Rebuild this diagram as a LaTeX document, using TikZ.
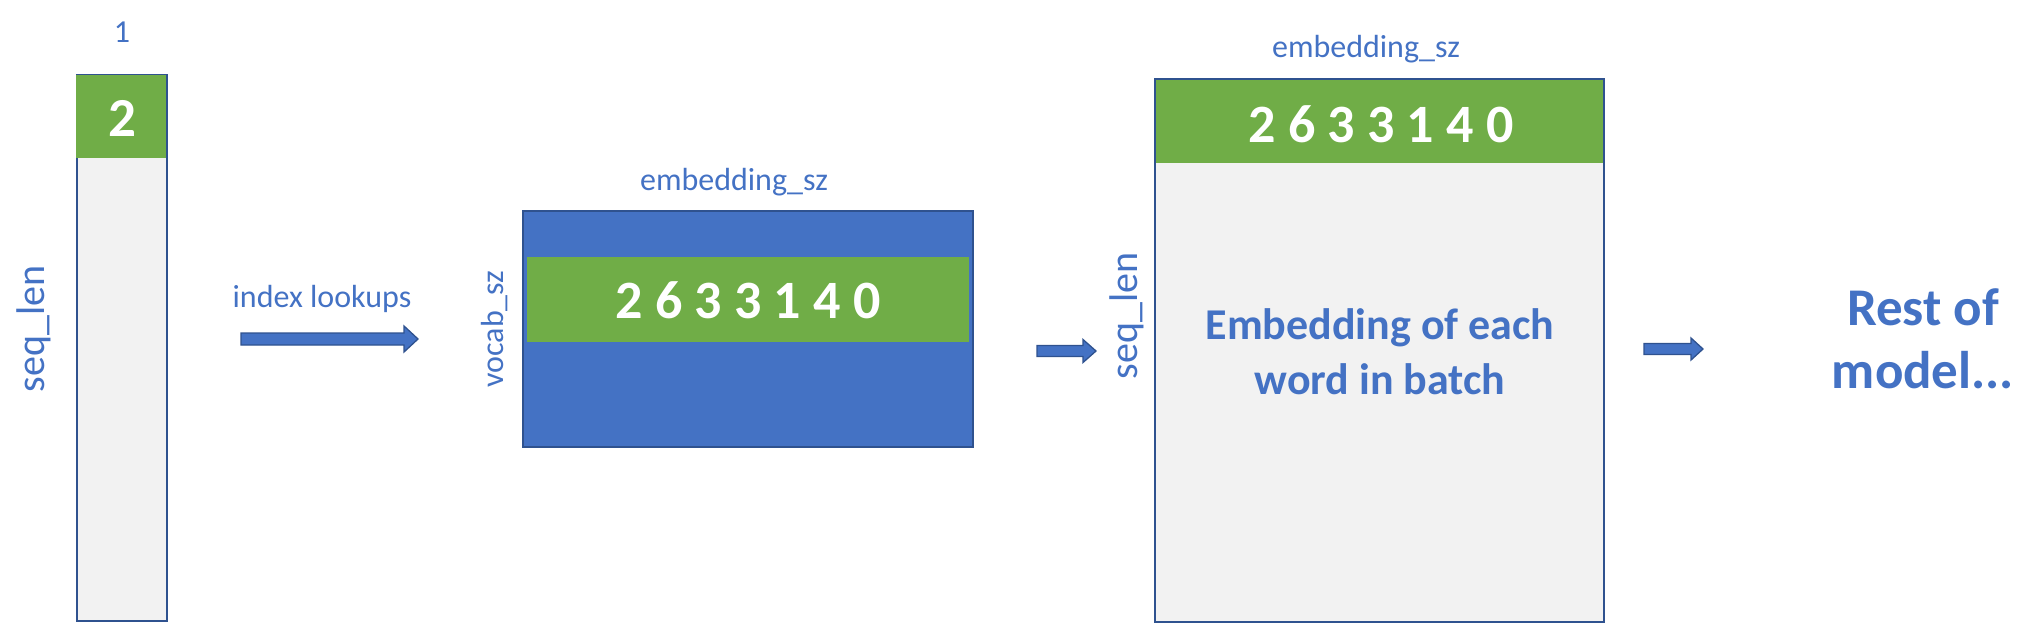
\documentclass[tikz,border=0pt]{standalone}
\usepackage{fontspec}
\setmainfont{Carlito}
\definecolor{txtblue}{HTML}{4472C4}
\definecolor{boxblue}{HTML}{4472C4}
\definecolor{edgeblue}{HTML}{2F528F}
\definecolor{leafgreen}{HTML}{70AD47}
\definecolor{panelgray}{HTML}{F2F2F2}
\begin{document}
\begin{tikzpicture}[x=1pt,y=-1pt,
  lbl/.style={text=txtblue, inner sep=0pt, font=\fontsize{32}{38}\selectfont},
  dimlbl/.style={text=txtblue, inner sep=0pt, font=\fontsize{40}{48}\selectfont},
  nums/.style={text=white, inner sep=0pt, font=\bfseries\fontsize{54}{64}\selectfont},
  bigtxt/.style={text=txtblue, inner sep=0pt, font=\bfseries\fontsize{44}{54}\selectfont},
  hugetxt/.style={text=txtblue, inner sep=0pt, font=\bfseries\fontsize{53}{64}\selectfont},
  frame/.style={draw=edgeblue, line width=2pt},
  blockarrow/.style={fill=boxblue, draw=edgeblue, line width=1.3pt, line join=miter}
]
\useasboundingbox (0,0) rectangle (2043,637);

% ---- left column (seq_len x 1)
\fill[panelgray] (77,75) rectangle (167,621);
\draw[frame] (77,75) rectangle (167,621);
\fill[leafgreen] (76,75) rectangle (166,158);
\node[lbl, anchor=base] (one) at (122,42) {1};
\node[nums, font=\bfseries\fontsize{55}{64}\selectfont, anchor=base] (two) at (122,136) {2};
\node[dimlbl, rotate=90, anchor=base] (seqleft) at (44,329) {seq\_len};

% ---- arrow 1 with label
\node[lbl, anchor=base] (lookups) at (322,307) {index lookups};
\draw[blockarrow] (241,333) -- (404,333) -- (404,326) -- (418,339) -- (404,352) -- (404,345) -- (241,345) -- cycle;

% ---- embedding matrix
\fill[boxblue] (523,211) rectangle (973,447);
\draw[frame] (523,211) rectangle (973,447);
\fill[leafgreen] (527,257) rectangle (969,342);
\node[nums, anchor=base] (rowA) at (748,318) {2 6 3 3 1 4 0};
\node[lbl, anchor=base] (embA) at (734,190) {embedding\_sz};
\node[lbl, rotate=90, anchor=base] (vocab) at (503,329) {vocab\_sz};

% ---- arrow 2
\draw[blockarrow] (1037,345.5) -- (1083,345.5) -- (1083,339.5) -- (1096,351) -- (1083,362.5) -- (1083,356.5) -- (1037,356.5) -- cycle;

% ---- output matrix
\fill[panelgray] (1155,79) rectangle (1604,622);
\fill[leafgreen] (1155,79) rectangle (1604,163);
\draw[frame] (1155,79) rectangle (1604,622);
\node[nums, anchor=base] (rowB) at (1381,142) {2 6 3 3 1 4 0};
\node[lbl, anchor=base] (embB) at (1366,57) {embedding\_sz};
\node[dimlbl, rotate=90, anchor=base] (seqright) at (1137,316) {seq\_len};
\node[bigtxt, anchor=base] (embline1) at (1380,339) {Embedding of each};
\node[bigtxt, anchor=base] (embline2) at (1380,394) {word in batch};

% ---- arrow 3
\draw[blockarrow] (1644,343.5) -- (1691,343.5) -- (1691,338) -- (1703,349) -- (1691,360) -- (1691,354.5) -- (1644,354.5) -- cycle;

% ---- rest of model
\node[hugetxt, anchor=base] (rest1) at (1923,325) {Rest of};
\node[hugetxt, anchor=base] (rest2) at (1923,388) {model...};
\end{tikzpicture}
\end{document}
